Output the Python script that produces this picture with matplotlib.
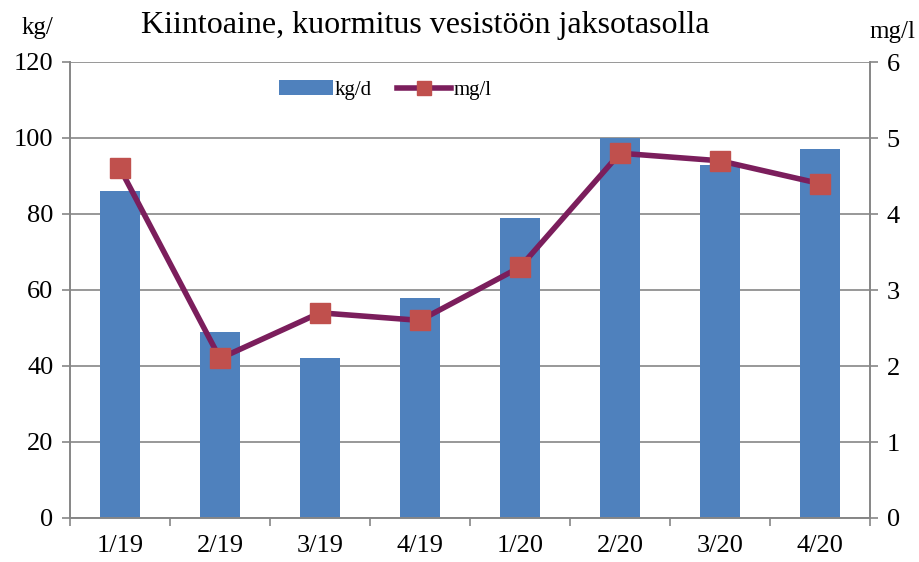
import numpy as np
import matplotlib
matplotlib.use('Agg')
import matplotlib.pyplot as plt
from matplotlib.lines import Line2D
from matplotlib.patches import Patch

plt.rcParams['font.family'] = ['Liberation Serif', 'DejaVu Serif']

categories = ['1/19', '2/19', '3/19', '4/19', '1/20', '2/20', '3/20', '4/20']
kg_d = [86, 49, 42, 58, 79, 100, 93, 97]
mg_l = [4.6, 2.1, 2.7, 2.6, 3.3, 4.8, 4.7, 4.4]

bar_color = '#4F81BD'
line_color = '#7B1E5C'
marker_color = '#C0504D'

fig = plt.figure(figsize=(9.2, 5.62), dpi=100)
ax = fig.add_axes([70 / 920, 1 - 518 / 562, 800 / 920, 456 / 562])
x = np.arange(len(categories))

ax.bar(x, kg_d, width=0.4, color=bar_color, zorder=2)
ax.set_xlim(-0.5, len(categories) - 0.5)
ax.set_ylim(0, 120)
ax.set_yticks(np.arange(0, 121, 20))
ax.yaxis.grid(True, color='#868686', linewidth=1.2, zorder=0)
ax.set_axisbelow(True)

ax.set_xticks(x)
ax.set_xticklabels(categories, fontsize=19)
ax.set_xticks(np.arange(-0.5, len(categories)), minor=True)
ax.tick_params(axis='x', which='major', length=0, pad=12)
ax.tick_params(axis='x', which='minor', length=6, color='#868686', width=1.2)
ax.tick_params(axis='y', labelsize=19, length=6, color='#868686', width=1.2, pad=6)

ax.spines['top'].set_visible(False)
for s in ['left', 'bottom', 'right']:
    ax.spines[s].set_color('#868686')
    ax.spines[s].set_linewidth(1.2)

ax2 = ax.twinx()
ax2.plot(x, mg_l, color=line_color, linewidth=4, marker='s', markersize=14,
         markerfacecolor=marker_color, markeredgecolor=marker_color, zorder=3)
ax2.set_ylim(0, 6)
ax2.set_yticks(np.arange(0, 7, 1))
ax2.tick_params(axis='y', labelsize=19, length=6, color='#868686', width=1.2, pad=6)
ax2.spines['top'].set_visible(False)
for s in ['left', 'bottom', 'right']:
    ax2.spines[s].set_color('#868686')
    ax2.spines[s].set_linewidth(1.2)

fig.text(425 / 920, 1 - 26 / 562, 'Kiintoaine, kuormitus vesistöön jaksotasolla',
         ha='center', va='center', fontsize=23)
fig.text(38 / 920, 1 - 28 / 562, 'kg/', ha='center', va='center', fontsize=18)
fig.text(892 / 920, 1 - 32 / 562, 'mg/l', ha='center', va='center', fontsize=18)

handles = [Patch(facecolor=bar_color, label='kg/d'),
           Line2D([0], [0], color=line_color, linewidth=4, marker='s', markersize=10,
                  markerfacecolor=marker_color, markeredgecolor=marker_color, label='mg/l')]
ax.legend(handles=handles, loc='center', bbox_to_anchor=(385 / 920, 1 - 90 / 562),
          bbox_transform=fig.transFigure, ncol=2, frameon=False, fontsize=15,
          handlelength=2.6, handletextpad=0.1, columnspacing=1.2)

fig.savefig('out.png', dpi=100)
